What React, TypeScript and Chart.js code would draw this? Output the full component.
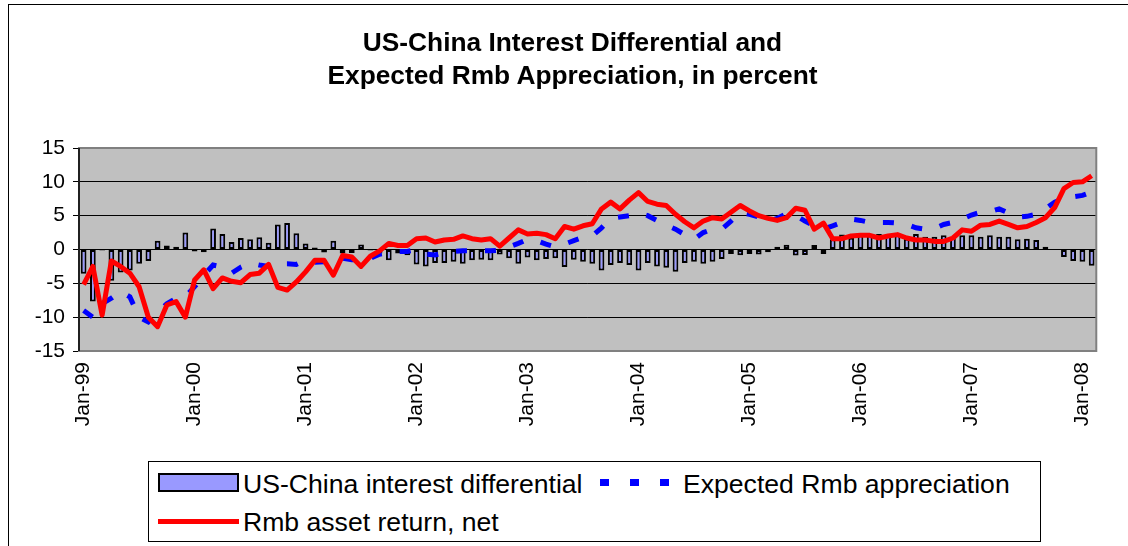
import React, { useEffect, useRef } from "react";
import { Chart, registerables } from "chart.js";

Chart.register(...registerables);

const MONTHS = ["Jan", "Feb", "Mar", "Apr", "May", "Jun", "Jul", "Aug", "Sep", "Oct", "Nov", "Dec"];
const YEARS = ["99", "00", "01", "02", "03", "04", "05", "06", "07", "08"];
const categories: string[] = [];
YEARS.forEach((y) => MONTHS.forEach((m) => categories.push(`${m}-${y}`)));
categories.length = 110; // Jan-99 .. Feb-08

const TITLE_LINES = ["US-China Interest Differential and", "Expected Rmb Appreciation, in percent"];
const SERIES_NAMES = ["US-China interest differential", "Expected Rmb appreciation", "Rmb asset return, net"];
const Y_MIN = -15;
const Y_MAX = 15;
const Y_STEP = 5;

const interestDiff = [
  -3.6, -7.7, -0.15, -4.6, -3.4, -3.1, -2.1, -1.7, 1.3, 0.6, 0.4, 2.5,
  -0.3, -0.4, 3.1, 2.3, 1.1, 1.7, 1.5, 1.8, 1.0, 3.7, 3.9, 2.4,
  0.9, 0.3, -0.45, 1.3, -0.6, -0.5, 0.75, -0.15, -0.6, -1.6, -0.6, -0.85,
  -2.2, -2.5, -2.0, -2.0, -1.8, -2.1, -1.6, -1.5, -1.6, -0.75, -1.3, -2.1,
  -1.2, -1.6, -1.4, -1.3, -2.6, -1.5, -1.8, -2.1, -3.1, -2.3, -2.0, -2.3,
  -3.1, -2.0, -2.5, -2.7, -3.3, -2.0, -1.8, -2.1, -1.8, -1.4, -0.65, -0.85,
  -0.65, -0.75, -0.4, 0.4, 0.7, -0.9, -0.8, 0.65, -0.65, 1.5, 2.2, 1.75,
  2.1, 2.3, 2.3, 2.0, 2.1, 1.6, 2.3, 1.9, 1.9, 2.1, 1.7, 2.1,
  2.1, 1.9, 2.1, 1.9, 1.9, 1.5, 1.6, 1.4, 0.4, 0, -1.1, -1.7,
  -1.8, -2.4,
];

const expectedAppreciation = [
  -9.0, -10.0, -8.0, -7.2, -6.2, -7.0, -10.0, -10.7, -9.4, -8.0, -7.2, -7.0,
  -5.5, -3.8, -2.3, -2.6, -3.5, -2.6, -2.0, -2.3, -2.5, -2.1, -2.1, -2.2,
  -1.6, -1.9, -1.8, -1.9, -1.3, -1.5, -1.5, -1.3, -0.7, -0.5, -0.3, -0.3,
  0.0, -0.7, -0.8, -0.5, -0.3, -0.2, -0.2, -0.2, -0.2, -0.1, 0.4, 0.9,
  1.5, 1.3, 0.8, 0.4, 0.8, 1.3, 1.8, 2.0, 3.2, 4.6, 4.8, 5.0,
  5.4, 5.0, 4.3, 3.6, 3.0, 2.2, 1.5, 2.5, 3.0, 3.0, 4.2, 5.5,
  5.2, 4.8, 4.1, 4.6, 5.3, 5.0, 4.2, 3.5, 3.0, 3.5, 4.0, 4.5,
  4.3, 4.0, 4.0, 4.0, 3.9, 3.7, 3.2, 3.0, 3.1, 3.7, 4.0, 4.5,
  5.1, 5.5, 5.6, 6.0, 5.4, 4.8, 4.9, 5.2, 6.0, 7.0, 7.5, 7.8,
  8.0, 8.5,
];

const assetReturn = [
  -5.2, -2.5, -9.7, -1.7, -2.5, -3.5, -5.5, -10.0, -11.4, -8.2, -7.7, -10.0,
  -4.5, -3.0, -5.8, -4.2, -4.7, -4.9, -3.7, -3.5, -2.2, -5.6, -6.0, -4.8,
  -3.3, -1.6, -1.6, -3.8, -0.9, -1.1, -2.5, -1.0, -0.2, 0.9, 0.6, 0.6,
  1.6, 1.7, 1.1, 1.4, 1.5, 2.0, 1.6, 1.4, 1.6, 0.5, 1.7, 2.9,
  2.3, 2.4, 2.2, 1.6, 3.4, 3.0, 3.5, 3.8, 6.0, 7.0, 6.0, 7.3,
  8.4, 7.1, 6.7, 6.5, 5.2, 4.1, 3.2, 4.2, 4.7, 4.5, 5.5, 6.5,
  5.7, 5.0, 4.6, 4.3, 4.7, 6.1, 5.8, 3.0, 3.9, 1.6, 1.6, 2.0,
  2.1, 2.1, 1.7, 2.0, 2.2, 1.7, 1.4, 1.4, 1.2, 1.2, 1.7, 2.9,
  2.7, 3.6, 3.7, 4.2, 3.7, 3.2, 3.4, 4.0, 4.7, 6.2, 9.0, 9.9,
  10.0, 10.9,
];

const FONT = '"Liberation Sans", Arial, sans-serif';

const plotFrame = {
  id: "plotFrame",
  beforeDraw(chart: any) {
    const { ctx, chartArea: a } = chart;
    ctx.save();
    ctx.fillStyle = "#C0C0C0";
    ctx.fillRect(a.left, a.top, a.right - a.left, a.bottom - a.top);
    ctx.restore();
  },
  afterDraw(chart: any) {
    const { ctx, chartArea: a } = chart;
    ctx.save();
    ctx.strokeStyle = "#808080";
    ctx.lineWidth = 2;
    ctx.strokeRect(a.left, a.top, a.right - a.left, a.bottom - a.top);
    ctx.strokeStyle = "#000000";
    ctx.lineWidth = 1.5;
    ctx.beginPath();
    ctx.moveTo(a.left, a.top);
    ctx.lineTo(a.left, a.bottom);
    ctx.stroke();
    ctx.restore();
  },
};

function ChartCanvas() {
  const ref = useRef<HTMLCanvasElement>(null);
  useEffect(() => {
    if (!ref.current) return;
    const chart = new Chart(ref.current, {
      type: "bar",
      data: {
        labels: categories,
        datasets: [
          {
            type: "line",
            label: SERIES_NAMES[2],
            data: assetReturn,
            borderColor: "#FF0000",
            backgroundColor: "#FF0000",
            borderWidth: 5,
            pointRadius: 0,
            tension: 0,
            borderJoinStyle: "round",
            order: 1,
          } as any,
          {
            type: "line",
            label: SERIES_NAMES[1],
            data: expectedAppreciation,
            borderColor: "#0000FF",
            backgroundColor: "#0000FF",
            borderWidth: 5,
            borderDash: [11, 18],
            borderCapStyle: "butt",
            pointRadius: 0,
            tension: 0,
            order: 2,
          } as any,
          {
            type: "bar",
            label: SERIES_NAMES[0],
            data: interestDiff,
            backgroundColor: "#9999FF",
            borderColor: "#000000",
            borderWidth: 2,
            borderSkipped: false,
            barPercentage: 0.62,
            categoryPercentage: 1,
            order: 3,
          } as any,
        ],
      },
      options: {
        responsive: false,
        animation: false,
        devicePixelRatio: 1,
        layout: { padding: { left: 0, top: 148, right: 31, bottom: 0 } },
        plugins: {
          legend: { display: false },
          title: { display: false },
          tooltip: { enabled: false },
        },
        scales: {
          x: {
            type: "category",
            offset: true,
            grid: { display: false, drawTicks: false },
            border: { display: false },
            ticks: {
              autoSkip: false,
              minRotation: 90,
              maxRotation: 90,
              padding: 11,
              color: "#000000",
              font: { family: FONT, size: 21 },
              callback: (_v: any, i: number) => (i % 12 === 0 ? categories[i] : ""),
            },
            afterFit: (s: any) => {
              s.height = 195;
            },
          },
          y: {
            min: Y_MIN,
            max: Y_MAX,
            ticks: {
              stepSize: Y_STEP,
              padding: 8,
              color: "#000000",
              font: { family: FONT, size: 21 },
            },
            grid: { color: "#000000", lineWidth: 1, tickLength: 6, drawTicks: true },
            border: { display: true, color: "#000000", width: 1.5 },
            afterFit: (s: any) => {
              s.width = 79;
            },
          },
        },
      },
      plugins: [plotFrame],
    });
    return () => chart.destroy();
  }, []);
  return <canvas ref={ref} width={1128} height={546} style={{ position: "absolute", left: 0, top: 0 }} />;
}

export default function App() {
  const txt: React.CSSProperties = { fontFamily: FONT, color: "#000", whiteSpace: "nowrap" };
  return (
    <div style={{ position: "fixed", left: 0, top: 0, width: 1128, height: 546, background: "#fff", overflow: "hidden" }}>
      <div style={{ position: "absolute", left: 8, top: 4, width: 1200, height: 600, borderLeft: "1px solid #000", borderTop: "1px solid #000" }} />
      <ChartCanvas />
      <div style={{ ...txt, position: "absolute", left: 0, width: 1145, top: 26, textAlign: "center", fontWeight: "bold", fontSize: 26.3, lineHeight: "33px" }}>
        <div>{TITLE_LINES[0]}</div>
        <div>{TITLE_LINES[1]}</div>
      </div>
      <div style={{ position: "absolute", left: 148, top: 461, width: 891, height: 79, border: "1px solid #000", background: "#fff" }}>
        <div style={{ position: "absolute", left: 9, top: 11, width: 77, height: 15, border: "2px solid #000", background: "#9999FF" }} />
        <div style={{ ...txt, position: "absolute", left: 94, top: 4, fontSize: 26.6, lineHeight: "36px" }}>{SERIES_NAMES[0]}</div>
        {[0, 1, 2].map((k) => (
          <div key={k} style={{ position: "absolute", left: 451 + k * 30, top: 17, width: 9, height: 7, background: "#0000FF" }} />
        ))}
        <div style={{ ...txt, position: "absolute", left: 534, top: 4, fontSize: 26.6, lineHeight: "36px" }}>{SERIES_NAMES[1]}</div>
        <div style={{ position: "absolute", left: 9, top: 57, width: 81, height: 5, background: "#FF0000" }} />
        <div style={{ ...txt, position: "absolute", left: 94, top: 42, fontSize: 26.6, lineHeight: "36px" }}>{SERIES_NAMES[2]}</div>
      </div>
    </div>
  );
}
